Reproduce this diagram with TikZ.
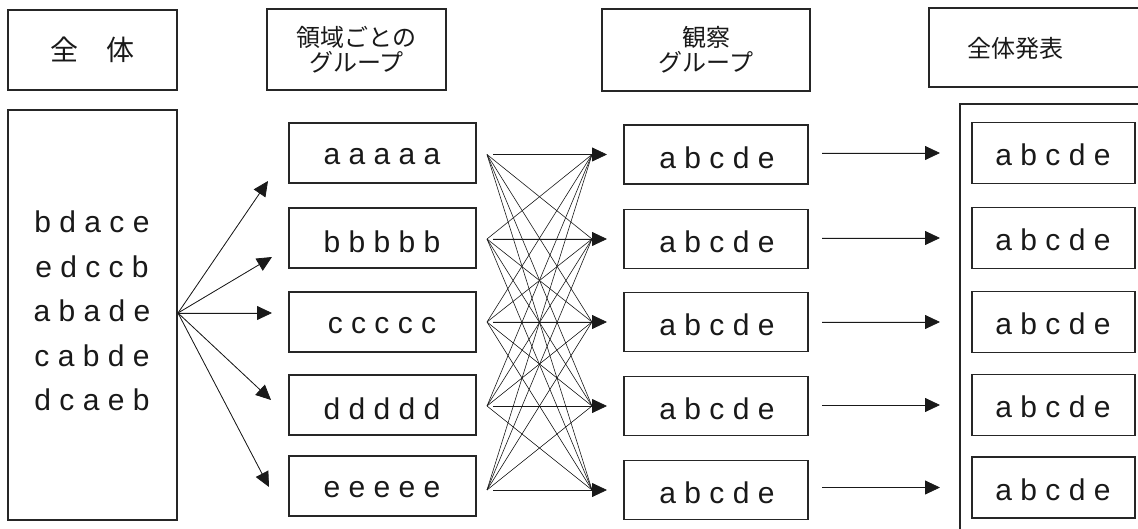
\documentclass[tikz,border=0pt]{standalone}
\usepackage{fontspec}
\setmainfont{Liberation Sans}
\newfontfamily\jp{Noto Sans CJK JP}
\usetikzlibrary{arrows.meta}
\begin{document}
\begin{tikzpicture}[x=1pt,y=-1pt,
  box/.style={draw=black!85, line width=1.1pt, inner sep=0pt},
  lbl/.style={font=\fontsize{30}{30}\selectfont, text=black!90, inner sep=0pt},
  hd/.style={box, font=\jp\fontsize{24}{25}\selectfont, align=center, text=black!90},
  tip/.style={-{Triangle[length=15pt,width=14pt]}, line width=0.8pt, draw=black!90, fill=black!90},
  web/.style={line width=0.6pt, draw=black!90}]
\useasboundingbox (0,0) rectangle (1138,529);

% header row
\node[hd, minimum width=169pt, minimum height=80pt, font=\jp\fontsize{28}{28}\selectfont] (h1) at (92.5,50) {全　体};
\node[hd, minimum width=179pt, minimum height=81pt] (h2) at (356.5,49.5) {領域ごとの\\グループ};
\node[hd, minimum width=208pt, minimum height=82pt] (h3) at (706,50) {観察\\グループ};
\node[box, minimum width=216pt, minimum height=79pt] (h4) at (1037,47.5) {};
\node[font=\jp\fontsize{24}{25}\selectfont, text=black!90] (h4t) at (1015,48) {全体発表};

% whole class
\node[box, minimum width=169pt, minimum height=410pt] (all) at (92.5,315) {};
\node[lbl, align=center, font=\fontsize{30}{44.5}\selectfont] (allt) at (92,311)
  {b d a c e\\e d c c b\\a b a d e\\c a b d e\\d c a e b};
\coordinate (src) at (178,313);

% domain groups
\foreach \i/\y/\t in {1/153/a a a a a, 2/238/b b b b b, 3/322/c c c c c, 4/405/d d d d d, 5/486/e e e e e}{
  \node[box, minimum width=187pt, minimum height=60pt] (d\i) at (382.5,\y) {};
  \node[lbl] (dt\i) at (382,\y+4) {\t};
}

% fan tips
\coordinate (f1) at (268,181);
\coordinate (f2) at (272,257);
\coordinate (f3) at (272,313);
\coordinate (f4) at (271,400);
\coordinate (f5) at (269,487);
\foreach \i in {1,...,5} \draw[tip] (src) -- (f\i);

% observation groups
\foreach \i/\y in {1/154.5, 2/239, 3/322, 4/406, 5/490}{
  \node[box, minimum width=184pt, minimum height=59pt] (o\i) at (716,\y) {};
  \node[lbl] (ot\i) at (717,\y+3) {a b c d e};
  \coordinate (l\i) at (487,\y);
  \coordinate (s\i) at (493,\y);
  \coordinate (r\i) at (592,\y);
  \coordinate (t\i) at (607,\y);
}
\foreach \i in {1,...,5}{
  \foreach \j in {1,...,5}{
    \ifnum\i=\j\relax\else \draw[web] (l\i) -- (r\j);\fi
  }
}
\foreach \i in {1,...,5} \draw[tip] (s\i) -- (t\i);

% presentation
\coordinate (fa) at (1145,104);
\coordinate (fb) at (960,104);
\coordinate (fc) at (960,535);
\draw[draw=black!85, line width=1.1pt] (fa) -- (fb) -- (fc);
\foreach \i/\y in {1/153, 2/238, 3/322, 4/405, 5/487.5}{
  \node[box, minimum width=163pt, minimum height=61pt] (p\i) at (1053.5,\y) {};
  \node[lbl] (pt\i) at (1053,\y+2) {a b c d e};
  \coordinate (u\i) at (822,\y);
  \coordinate (v\i) at (940,\y);
  \draw[tip] (u\i) -- (v\i);
}
\end{tikzpicture}
\end{document}
